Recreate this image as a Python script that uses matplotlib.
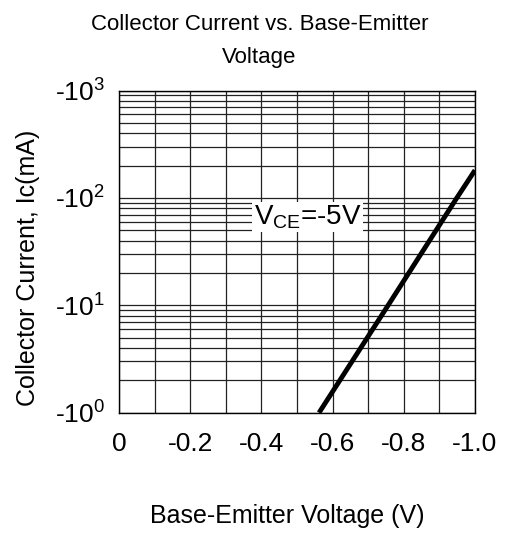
import math
import matplotlib.pyplot as plt
from matplotlib.ticker import FixedLocator, LogLocator, FuncFormatter, NullFormatter

plt.rcParams['font.family'] = ['Liberation Sans', 'DejaVu Sans']
plt.rcParams['mathtext.fontset'] = 'custom'
plt.rcParams['mathtext.rm'] = 'Liberation Sans'
plt.rcParams['mathtext.it'] = 'Liberation Sans'

# VCE = -5V curve
vbe = [-0.562, -0.756, -0.949, -1.0]
ic = [-1, -10, -100, -181]

xticks = [0, -0.2, -0.4, -0.6, -0.8, -1.0]
xlabels = ["0", "-0.2", "-0.4", "-0.6", "-0.8", "-1.0"]

fig = plt.figure(figsize=(5.16, 5.35), dpi=100)
ax = fig.add_axes([0.2306, 0.2286, 0.6899, 0.6022])

ax.plot(vbe, [abs(v) for v in ic], color="black", linewidth=3.5, solid_capstyle="butt")

ax.set_yscale("log")
ax.set_ylim(1, 1000)
ax.set_xlim(0, -1.0)

ax.xaxis.set_major_locator(FixedLocator(xticks))
ax.set_xticklabels(xlabels)
ax.xaxis.set_minor_locator(FixedLocator([-0.1, -0.3, -0.5, -0.7, -0.9]))
ax.yaxis.set_major_locator(LogLocator(base=10, numticks=10))
ax.yaxis.set_minor_locator(LogLocator(base=10, subs=range(2, 10), numticks=20))
ax.yaxis.set_major_formatter(FuncFormatter(lambda v, p: r"-10$^{%d}$" % round(math.log10(v))))
ax.yaxis.set_minor_formatter(NullFormatter())

ax.grid(True, which="both", color="#222222", linewidth=0.9)
ax.tick_params(which="both", length=0, labelsize=19)
ax.tick_params(axis="x", pad=14)
ax.tick_params(axis="y", pad=10)
for s in ax.spines.values():
    s.set_color("black")
    s.set_linewidth(1.0)

ax.text(-0.53, 66, r"V$_{\mathrm{CE}}$=-5V", fontsize=20, ha="center", va="center",
        bbox=dict(facecolor="white", edgecolor="none", pad=1))

fig.text(0.503, 0.955, "Collector Current vs. Base-Emitter", ha="center", va="center", fontsize=16)
fig.text(0.503, 0.893, "Voltage", ha="center", va="center", fontsize=16)
fig.text(0.054, 0.5, "Collector Current, Ic(mA)", rotation=90, ha="center", va="center", fontsize=18)
fig.text(0.557, 0.035, "Base-Emitter Voltage (V)", ha="center", va="center", fontsize=18)

fig.savefig("out.png", dpi=100)
